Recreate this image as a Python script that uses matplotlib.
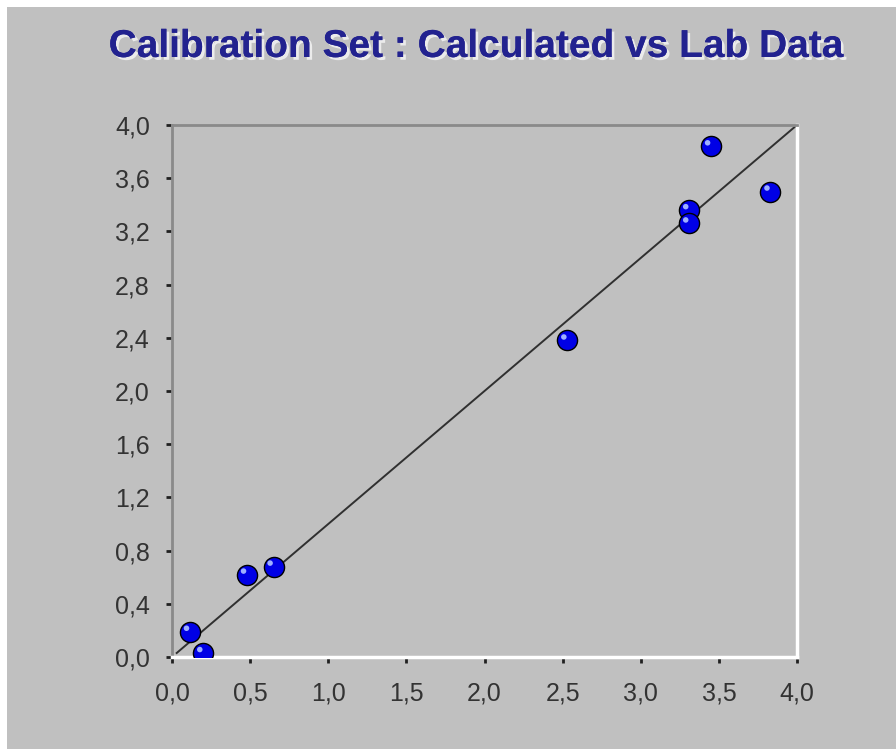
import matplotlib
matplotlib.use("Agg")
import matplotlib.pyplot as plt
import matplotlib.patheffects as pe
import matplotlib.transforms as mtransforms
from matplotlib.patches import Rectangle

# Data
lab_x = [0.115, 0.20, 0.48, 0.65, 2.53, 3.31, 3.31, 3.45, 3.83]
calc_y = [0.19, 0.03, 0.62, 0.68, 2.38, 3.36, 3.26, 3.84, 3.50]
fit_x = [0.03, 4.0]
fit_y = [0.03, 4.0]
xticks = [0.0, 0.5, 1.0, 1.5, 2.0, 2.5, 3.0, 3.5, 4.0]
yticks = [0.0, 0.4, 0.8, 1.2, 1.6, 2.0, 2.4, 2.8, 3.2, 3.6, 4.0]
title = "Calibration Set : Calculated vs Lab Data"

plt.rcParams['font.family'] = ['Liberation Sans', 'DejaVu Sans']

fig = plt.figure(figsize=(8.96, 7.49), dpi=100)
fig.patch.set_facecolor('white')
bg = Rectangle((7/896, 0), 1 - 7/896, 1 - 7/749, transform=fig.transFigure,
               facecolor='#c0c0c0', edgecolor='none', zorder=-10)
fig.patches.append(bg)

ax = fig.add_axes([172/896, 1 - 657/749, (797-172)/896, (657-125)/749])
ax.set_facecolor('#c0c0c0')
ax.set_xlim(0, 4)
ax.set_ylim(0, 4)

ax.plot(fit_x, fit_y, color='#303030', lw=1.4, zorder=2)

ax.scatter(lab_x, calc_y, s=210, color='#0000e6', edgecolors='black',
           linewidths=1.0, zorder=3)
hl = mtransforms.offset_copy(ax.transData, fig=fig, x=-2.5, y=2.5, units='points')
ax.scatter(lab_x, calc_y, s=16, color='#9fb0ff', edgecolors='none',
           transform=hl, zorder=4)

ax.set_xticks(xticks)
ax.set_yticks(yticks)
ax.set_xticklabels([f"{v:.1f}".replace('.', ',') for v in xticks])
ax.set_yticklabels([f"{v:.1f}".replace('.', ',') for v in yticks])
ax.tick_params(direction='out', length=4, width=2, color='#202020',
               labelsize=18, labelcolor='#333333')
ax.tick_params(axis='y', pad=12)
ax.tick_params(axis='x', pad=14)

for s in ['left', 'top']:
    ax.spines[s].set_color('#8a8a8a')
    ax.spines[s].set_linewidth(2)
for s in ['right', 'bottom']:
    ax.spines[s].set_color('white')
    ax.spines[s].set_linewidth(2.5)

fig.text(476/896, 1 - 47/749, title, ha='center', va='center',
         fontsize=28, fontweight='bold', color='#22228f',
         family=['Liberation Sans Narrow', 'Liberation Sans', 'DejaVu Sans'],
         path_effects=[pe.withSimplePatchShadow(offset=(2, -2), shadow_rgbFace='#f0f0f0', alpha=0.9),
                       pe.Normal()])

fig.savefig('out.png', dpi=100, facecolor=fig.get_facecolor())
